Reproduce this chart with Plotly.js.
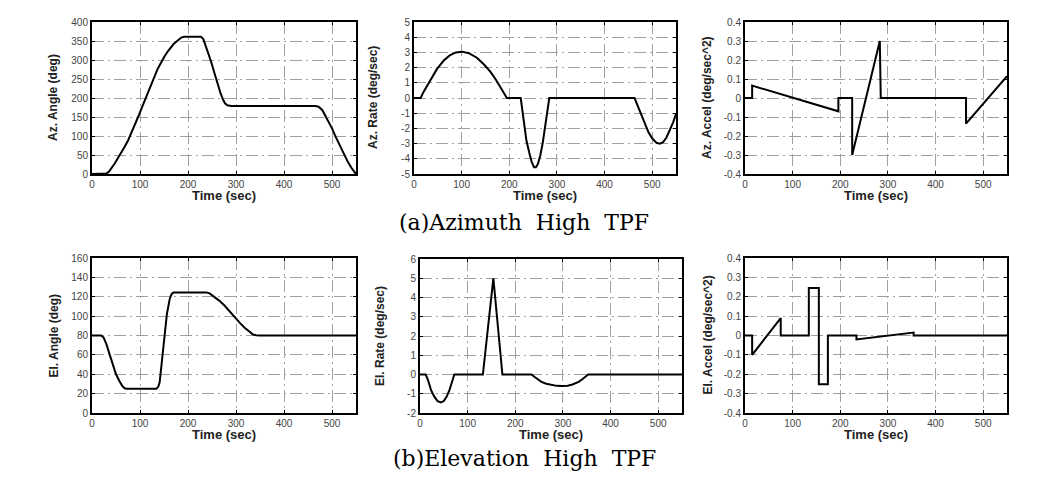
<!DOCTYPE html>
<html>
<head>
<meta charset="utf-8">
<script src="https://cdn.plot.ly/plotly-3.0.1.min.js"></script>
<style>html,body{margin:0;padding:0;background:#fff}#chart{width:1037px;height:479px}</style>
</head>
<body>
<div id="chart"></div>
<script>
// ---------- data ----------
const azAngleT = [0,26,30,35,40,47,55,62,68,75,80,89,96,103,112,120,128,137,150,158,170,179,186,192,227,232,240,248,256,262,268,273,277,282,290,465,472,480,491,500,508,518,526,533,540,546,550];
const azAngleV = [0,0,1,6,14,27,44,58,72,88,102,128,150,172,200,226,252,277,307,323,342,353,359,361,361,355,328,296,262,235,212,196,186,181,179,179,177,168,143,120,97,70,50,32,17,6,0];

const azRateT = [0,14,20,34,48,62,75,88,101,115,132,147,161,172,182,190,195,224,228,231,236,242,247,252,256,260,265,270,275,280,284,463,470,477,485,492,500,509,516,523,530,537,544,550];
const azRateV = [0,0,0.4,1.2,1.9,2.45,2.8,3.0,3.05,2.95,2.65,2.2,1.7,1.2,0.65,0.25,0,0,-0.9,-1.8,-2.8,-3.6,-4.2,-4.55,-4.55,-4.35,-3.8,-3.0,-2.0,-1.0,0,0,-0.55,-1.14,-1.75,-2.24,-2.65,-2.95,-3.0,-2.9,-2.6,-2.1,-1.6,-1.05];

const azAccelT = [0,15,15,196,196,225,225,283,285,464,464,550];
const azAccelV = [0,0,0.065,-0.07,0,0,-0.3,0.3,0,0,-0.135,0.115];

const elAngleT = [0,19,24,30,37,44,50,57,63,68,72,134,138,141,146,151,156,162,166,170,238,245,255,265,276,287,297,308,318,327,335,342,350,550];
const elAngleV = [80,80,78,71,60,49,40,33,28,25.5,25,25,27,32,55,80,102,118,123,124.5,124.5,123.5,120,116,111,104.5,99,93,88,84,81.2,80.2,80,80];

const elRateT = [0,12,17,23,30,37,44,50,56,62,67,72,132,154,173,234,240,248,255,265,276,287,298,310,320,333,342,350,353,550];
const elRateV = [0,0,-0.3,-0.8,-1.15,-1.38,-1.45,-1.38,-1.15,-0.8,-0.4,0,0,5.0,0,0,-0.12,-0.27,-0.38,-0.48,-0.55,-0.59,-0.6,-0.58,-0.52,-0.38,-0.22,-0.05,0,0];

const elAccelT = [0,15,15,75,75,134,134,155,155,174,174,234,234,354,354,550];
const elAccelV = [0,0,-0.1,0.09,0,0,0.245,0.245,-0.252,-0.252,0,0,-0.02,0.015,0,0];

const timeTicks = [0,100,200,300,400,500];
const timeTickText = ['0','100','200','300','400','500'];
const azAngleTicks = [0,50,100,150,200,250,300,350,400];
const azAngleTickText = ['0','50','100','150','200','250','300','350','400'];
const azRateTicks = [-5,-4,-3,-2,-1,0,1,2,3,4,5];
const azRateTickText = ['-5','-4','-3','-2','-1','0','1','2','3','4','5'];
const accelTicks = [-0.4,-0.3,-0.2,-0.1,0,0.1,0.2,0.3,0.4];
const accelTickText = ['-0.4','-0.3','-0.2','-0.1','0','0.1','0.2','0.3','0.4'];
const elAngleTicks = [0,20,40,60,80,100,120,140,160];
const elAngleTickText = ['0','20','40','60','80','100','120','140','160'];
const elRateTicks = [-2,-1,0,1,2,3,4,5,6];
const elRateTickText = ['-2','-1','0','1','2','3','4','5','6'];

const yTitles = ['Az. Angle (deg)','Az. Rate (deg/sec)','Az. Accel (deg/sec^2)','El. Angle (deg)','El. Rate (deg/sec)','El. Accel (deg/sec^2)'];
const xTitle = 'Time (sec)';
const captions = ['(a)Azimuth\u00a0 High\u00a0 TPF','(b)Elevation\u00a0 High\u00a0 TPF'];

// ---------- layout ----------
const W = 1037, H = 479;
const panels = [
  {t:azAngleT, v:azAngleV, box:[92,356,22,174], range:[0,400], tv:azAngleTicks, tt:azAngleTickText, tx:53},
  {t:azRateT, v:azRateV, box:[414,676,22,174], range:[-5,5], tv:azRateTicks, tt:azRateTickText, tx:373},
  {t:azAccelT, v:azAccelV, box:[745,1007,22,174], range:[-0.4,0.4], tv:accelTicks, tt:accelTickText, tx:707},
  {t:elAngleT, v:elAngleV, box:[92,356,258,413], range:[0,160], tv:elAngleTicks, tt:elAngleTickText, tx:53},
  {t:elRateT, v:elRateV, box:[420,682,259,413], range:[-2,6], tv:elRateTicks, tt:elRateTickText, tx:380},
  {t:elAccelT, v:elAccelV, box:[745,1007,258,413], range:[-0.4,0.4], tv:accelTicks, tt:accelTickText, tx:707}
];

const common = {
  showline:true, mirror:'ticks', linecolor:'#000', linewidth:2,
  showgrid:true, gridcolor:'#a0a0a0', gridwidth:1, griddash:'12px,4px,2px,4px',
  zeroline:false, ticks:'inside', ticklen:3, tickcolor:'#000', tickwidth:1,
  tickfont:{family:'Arial, Liberation Sans, sans-serif', size:10, color:'#444'},
  fixedrange:true
};

const data = [];
const layout = {
  width:W, height:H, margin:{l:0,r:0,t:0,b:0},
  paper_bgcolor:'#fff', plot_bgcolor:'#fff', showlegend:false,
  annotations:[]
};

panels.forEach((p,i)=>{
  const n = i===0 ? '' : String(i+1);
  const [l,r,top,bot] = p.box;
  data.push({x:p.t, y:p.v, xaxis:'x'+n, yaxis:'y'+n, type:'scatter', mode:'lines',
    line:{color:'#000', width:2}, hoverinfo:'skip'});
  layout['xaxis'+n] = Object.assign({}, common, {
    domain:[l/W, r/W], range:[0,550], anchor:'y'+n,
    tickmode:'array', tickvals:timeTicks, ticktext:timeTickText
  });
  layout['yaxis'+n] = Object.assign({}, common, {
    domain:[1-bot/H, 1-top/H], range:p.range, anchor:'x'+n,
    tickmode:'array', tickvals:p.tv, ticktext:p.tt
  });
  layout.annotations.push({
    xref:'paper', yref:'paper', x:p.tx/W, y:1-((top+bot)/2)/H,
    text:yTitles[i], textangle:-90, showarrow:false, xanchor:'center', yanchor:'middle',
    font:{family:'Arial, Liberation Sans, sans-serif', size:12, color:'#222', weight:'bold'}
  });
  layout.annotations.push({
    xref:'paper', yref:'paper', x:((l+r)/2)/W, y:1-(bot+21)/H,
    text:xTitle, showarrow:false, xanchor:'center', yanchor:'middle',
    font:{family:'Arial, Liberation Sans, sans-serif', size:13, color:'#222', weight:'bold'}
  });
});

layout.annotations.push({
  xref:'paper', yref:'paper', x:524/W, y:1-222/H, text:captions[0], showarrow:false,
  xanchor:'center', yanchor:'middle', font:{family:'DejaVu Serif, serif', size:22, color:'#000'}
});
layout.annotations.push({
  xref:'paper', yref:'paper', x:524/W, y:1-458/H, text:captions[1], showarrow:false,
  xanchor:'center', yanchor:'middle', font:{family:'DejaVu Serif, serif', size:22, color:'#000'}
});

Plotly.newPlot('chart', data, layout, {displayModeBar:false, staticPlot:true});
</script>
</body>
</html>
